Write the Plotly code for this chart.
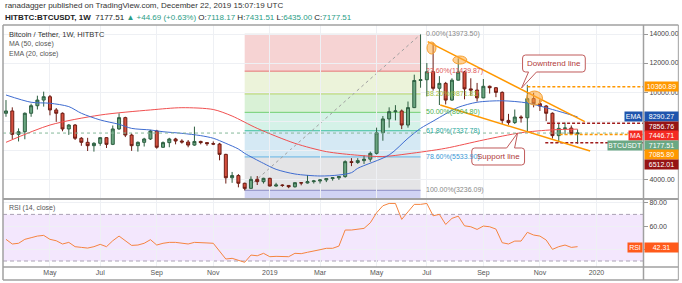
import plotly.graph_objects as go
import pandas as pd

# ---------------- data ----------------
WEEK0 = "2018-03-19"
N_WEEKS = 92
open_ = [8540, 8700, 7090, 7270, 8540, 9060, 9450, 9680, 8770, 8540,
         7460, 7730, 6820, 6540, 6310, 6470, 6860, 6400, 7460, 8240,
         7040, 6310, 6540, 6770, 7320, 6200, 6520, 6770, 6630, 6560,
         6350, 6600, 6520, 6450, 6420, 5710, 4100, 4250, 3720, 3370,
         3990, 3830, 4060, 3530, 3600, 3570, 3480, 3760, 3740, 3830,
         3880, 3950, 4040, 4100, 4180, 5210, 5150, 5280, 5380, 5780,
         7200, 8150, 8650, 8700, 7730, 8930, 10800, 10850, 11400, 10260,
         10600, 9450, 10820, 11380, 10220, 10140, 9600, 10400, 10300, 9980,
         8050, 7900, 8280, 8230, 9550, 9200, 9040, 8540, 7000, 7500,
         7520, 7118.17]
high = [9450, 8950, 7500, 8600, 9200, 9750, 10030, 9800, 8900, 8600,
        7800, 7800, 6900, 6850, 6550, 6900, 6900, 7700, 8540, 8300,
        7150, 6600, 6850, 7400, 7400, 6600, 6850, 6850, 6750, 6700,
        7620, 6650, 6550, 6600, 6500, 5750, 4500, 4350, 3760, 4200,
        4220, 4100, 4100, 3750, 3650, 3600, 3780, 3800, 4290, 3950,
        4000, 4050, 4150, 4200, 5300, 5450, 5450, 5650, 5900, 7550,
        8350, 8950, 9100, 8800, 9350, 11200, 13973.5, 12000, 13380, 11100,
        10700, 10950, 12320, 11450, 10950, 10630, 10900, 10450, 10350, 10050,
        8500, 8800, 8400, 10500, 9950, 9500, 9100, 8600, 7850, 7900,
        7700, 7431.51]
low = [8300, 6770, 6600, 6750, 8300, 8800, 9000, 8400, 7950, 7300,
       7050, 6700, 6300, 5940, 5900, 6300, 6150, 6350, 7400, 6900,
       5950, 5900, 6250, 6700, 6100, 6150, 6200, 6400, 6450, 6200,
       6300, 6400, 6300, 6350, 5300, 3700, 3750, 3440, 3236.09, 3350,
       3600, 3700, 3500, 3480, 3470, 3380, 3420, 3580, 3700, 3700,
       3700, 3800, 3900, 3950, 4100, 4900, 5050, 5050, 5200, 5700,
       6650, 7550, 8050, 7450, 7550, 8900, 10300, 9700, 10100, 9110,
       9150, 9400, 10800, 9500, 9750, 9350, 9580, 9900, 9650, 7800,
       7750, 7800, 7900, 7300, 8950, 8700, 8000, 6800, 6512.01, 7080,
       7050, 6435.00]
close = [8700, 7090, 7270, 8540, 9060, 9450, 9680, 8770, 8540, 7460,
         7730, 6820, 6540, 6310, 6470, 6860, 6400, 7460, 8240, 7040,
         6310, 6540, 6770, 7320, 6200, 6520, 6770, 6630, 6560, 6350,
         6600, 6520, 6450, 6420, 5710, 4100, 4250, 3720, 3370, 3990,
         3830, 4060, 3530, 3600, 3570, 3480, 3760, 3740, 3830, 3880,
         3950, 4040, 4100, 4180, 5210, 5150, 5280, 5380, 5780, 7200,
         8150, 8650, 8700, 7730, 8930, 10800, 10850, 11400, 10260, 10600,
         9450, 10820, 11380, 10220, 10140, 9600, 10400, 10300, 9980, 8050,
         7900, 8280, 8230, 9550, 9200, 9040, 8540, 7000, 7500, 7520,
         7132.82, 7177.51]
rsi = [48.6, 44.6, 45.2, 48.6, 50.0, 51.4, 52.0, 48.6, 47.4, 44.6,
       46.0, 42.3, 41.7, 41.1, 42.3, 44.3, 42.3, 47.4, 51.4, 47.1,
       43.4, 43.7, 45.2, 48.3, 43.7, 45.2, 46.0, 46.0, 45.2, 44.6,
       46.0, 45.5, 45.5, 45.2, 38.8, 31.7, 32.3, 30.3, 28.9, 35.1,
       34.5, 36.6, 33.7, 34.0, 34.0, 33.7, 36.6, 36.3, 37.5, 38.3,
       39.7, 40.9, 40.9, 42.8, 56.6, 56.6, 57.4, 58.0, 62.8, 71.4,
       77.4, 79.4, 79.4, 65.7, 72.2, 78.6, 78.6, 79.4, 68.8, 70.0,
       61.4, 66.6, 68.5, 60.2, 59.4, 57.1, 60.0, 59.4, 57.4, 45.7,
       44.6, 47.1, 47.1, 54.6, 52.3, 51.4, 48.0, 40.0, 42.3, 43.7,
       41.7, 42.31]
ma50_week = [0, 7, 15, 23, 28, 33, 36, 40, 46, 51, 56, 60, 64, 70, 76, 82, 87, 91]
ma50_val = [6540, 7730, 8420, 8770, 8925, 8800, 8350, 7500, 6470, 5900,
            5650, 5560, 5750, 6130, 6700, 7200, 7400, 7446.71]
ema20_week = [0, 4, 7, 10, 12, 15, 18, 20, 23, 25, 28, 31, 33, 35, 37, 38,
              41, 43, 46, 50, 53, 55, 56, 61, 64, 66, 68, 70, 72, 75, 79,
              83, 87, 91]
ema20_val = [9800, 9300, 9230, 9000, 8540, 8080, 7780, 7500, 7390, 7270,
             7160, 7000, 6820, 6470, 6080, 5780, 5090, 4680, 4360, 4220,
             4290, 4450, 4750, 5670, 6820, 7500, 8000, 8500, 8950, 9300,
             9400, 9250, 8800, 8290.27]
fib_labels = ["0.00%", "23.60%", "38.20%", "50.00%", "61.80%", "78.60%", "100.00%"]
fib_prices = [13973.50, 11439.87, 9871.81, 8604.80, 7337.78, 5533.90, 3236.09]
month_tick_dates = ["2018-05-07", "2018-07-02", "2018-09-03", "2018-11-05",
                    "2019-01-07", "2019-03-04", "2019-05-06", "2019-07-01",
                    "2019-09-02", "2019-11-04", "2020-01-06"]
month_tick_text = ["May", "Jul", "Sep", "Nov", "2019", "Mar", "May", "Jul",
                   "Sep", "Nov", "2020"]
price_ticks = [4000, 6000, 8000, 10000, 12000, 14000]
price_tick_text = ["4000.00", "", "", "10000.00", "12000.00", "14000.00"]
rsi_ticks = [40, 60, 80]
rsi_tick_text = ["", "60.00", "80.00"]
# drawings (date, price)
downtrend = [("2019-07-02", 13470), ("2019-12-24", 7960)]
supportln = [("2019-07-16", 9110), ("2019-12-30", 5940)]
h_levels = [(10360.89, "2019-10-21", "#ff9800"), (7856.76, "2019-11-12", "#a01c1c"),
            (7085.80, "2019-11-26", "#ff9800"), (6512.01, "2019-11-10", "#a01c1c")]
last_price = 7177.51

# ---------------- geometry helpers ----------------
W, H = 682, 283
LM, RM, TM, BM = 3, 36, 25, 16
PW, PH = W - LM - RM, H - TM - BM


def px(x):
    return (x - LM) / PW


def py(y):
    return (H - BM - y) / PH


dates = pd.date_range(WEEK0, periods=N_WEEKS, freq="W-MON")
X_LEFT = pd.Timestamp(WEEK0) - pd.Timedelta(days=3.33)
X_RIGHT = pd.Timestamp(WEEK0) + pd.Timedelta(days=709.9)
Y_MAIN = [2657, 14620]
Y_RSI = [24.86, 82.85]
MAIN_BOTTOM = py(198.7)

fig = go.Figure()
fig.add_trace(go.Candlestick(
    x=dates, open=open_, high=high, low=low, close=close,
    increasing=dict(fillcolor="#6aa580", line=dict(color="#2d5f40", width=1)),
    decreasing=dict(fillcolor="#d6503f", line=dict(color="#6e1d14", width=1)),
    whiskerwidth=0, xaxis="x", yaxis="y", hoverinfo="skip"))
fig.add_trace(go.Scatter(x=[dates[i] for i in ma50_week], y=ma50_val, mode="lines",
                         line=dict(color="#f05050", width=1, shape="spline", smoothing=0.8),
                         xaxis="x", yaxis="y"))
fig.add_trace(go.Scatter(x=[dates[i] for i in ema20_week], y=ema20_val, mode="lines",
                         line=dict(color="#3f6cd0", width=1, shape="spline", smoothing=0.8),
                         xaxis="x", yaxis="y"))
fig.add_trace(go.Scatter(x=dates, y=rsi, mode="lines",
                         line=dict(color="#f5843f", width=1),
                         xaxis="x2", yaxis="y2"))

shapes = []
# fib bands
band_colors = ["#f6d3d3", "#ecf3da", "#d9f1d6", "#d5f2e8", "#d5e9f4", "#e4e4e6"]
line_colors = ["#9a9a9a", "#e57373", "#b5d36b", "#70cf70", "#3cbfa0", "#64b3e6", "#8c8cc4"]
text_colors = ["#888888", "#e05555", "#9fbd3c", "#4caf50", "#26a69a", "#3d97d6", "#888888"]
fx0, fx1 = dates[38], dates[66]
for i in range(6):
    shapes.append(dict(type="rect", xref="x", yref="y", x0=fx0, x1=fx1,
                       y0=fib_prices[i + 1], y1=fib_prices[i], fillcolor=band_colors[i],
                       line=dict(width=0), layer="below"))
shapes.append(dict(type="rect", xref="x", yref="y", x0=fx0, x1=fx1,
                   y0=Y_MAIN[0], y1=fib_prices[6], fillcolor="#d0d3f3",
                   line=dict(width=0), layer="below"))
for i, p in enumerate(fib_prices):
    shapes.append(dict(type="line", xref="x", yref="y", x0=fx0, x1=fx1, y0=p, y1=p,
                       line=dict(color=line_colors[i], width=1), layer="below"))
shapes.append(dict(type="line", xref="x", yref="y", x0=fx0, x1=fx1,
                   y0=fib_prices[6], y1=fib_prices[0],
                   line=dict(color="#a0a0a0", width=1, dash="3px,3px"), layer="below"))
# RSI band
shapes.append(dict(type="rect", xref="paper", yref="y2", x0=0, x1=1, y0=30, y1=70,
                   fillcolor="#f3e7fd", line=dict(width=0), layer="below"))
for v in (30, 70):
    shapes.append(dict(type="line", xref="paper", yref="y2", x0=0, x1=1, y0=v, y1=v,
                       line=dict(color="#aaa2b4", width=1, dash="4px,3px"), layer="below"))
# last price line
shapes.append(dict(type="line", xref="paper", yref="y", x0=0, x1=1, y0=last_price,
                   y1=last_price, line=dict(color="#86b99a", width=1, dash="dot")))
# horizontal levels
for p, d0, c in h_levels:
    shapes.append(dict(type="line", xref="x", yref="y", x0=d0, x1=X_RIGHT, y0=p, y1=p,
                       line=dict(color=c, width=1.5, dash="3px,2px")))
# trend lines
for ln in (downtrend, supportln):
    shapes.append(dict(type="line", xref="x", yref="y", x0=ln[0][0], y0=ln[0][1],
                       x1=ln[1][0], y1=ln[1][1], line=dict(color="#ff9800", width=1.5)))
# ellipses (pixel boxes)
for (x0, y0, x1, y1) in [(429, 42, 438, 54), (455, 56, 469, 64), (529, 91, 545, 105)]:
    shapes.append(dict(type="circle", xref="paper", yref="paper", x0=px(x0), x1=px(x1),
                       y0=py(y1), y1=py(y0), fillcolor="rgba(255,170,60,0.55)",
                       line=dict(color="#f5a030", width=1)))


def pt(x, y):
    return f"{px(x):.5f},{py(y):.5f}"


def callout_path(x0, y0, x1, y1, tail, tip, on_top):
    r = 3
    a, b = tail
    parts = [f"M {pt(x0 + r, y0)}"]
    if on_top:
        parts += [f"L {pt(a, y0)}", f"L {pt(*tip)}", f"L {pt(b, y0)}"]
    parts += [f"L {pt(x1 - r, y0)}", f"Q {pt(x1, y0)} {pt(x1, y0 + r)}",
              f"L {pt(x1, y1 - r)}", f"Q {pt(x1, y1)} {pt(x1 - r, y1)}"]
    if not on_top:
        parts += [f"L {pt(b, y1)}", f"L {pt(*tip)}", f"L {pt(a, y1)}"]
    parts += [f"L {pt(x0 + r, y1)}", f"Q {pt(x0, y1)} {pt(x0, y1 - r)}",
              f"L {pt(x0, y0 + r)}", f"Q {pt(x0, y0)} {pt(x0 + r, y0)}", "Z"]
    return " ".join(parts)


shapes.append(dict(type="path", xref="paper", yref="paper",
                   path=callout_path(525, 55, 588, 72, (531, 539), (524, 88), False),
                   fillcolor="white", line=dict(color="#c05a5a", width=1)))
shapes.append(dict(type="path", xref="paper", yref="paper",
                   path=callout_path(474, 148, 527, 165, (509, 517), (520, 133), True),
                   fillcolor="white", line=dict(color="#c05a5a", width=1)))

# frame
FC = "#a0a0a0"
for (x0, y0, x1, y1, w) in [(3, 25, 681.5, 25, 1.5), (3, 25, 3, 280, 1.5),
                            (3, 280, 681.5, 280, 1.5), (681.5, 25, 681.5, 280, 1),
                            (646.5, 25, 646.5, 280, 1.5), (3, 199, 681.5, 199, 2),
                            (3, 267, 681.5, 267, 1.5)]:
    shapes.append(dict(type="line", xref="paper", yref="paper", x0=px(x0), x1=px(x1),
                       y0=py(y0), y1=py(y1), line=dict(color=FC, width=w)))

ann = []
FONT = "Liberation Sans"


def text(x, y, s, size=7, color="#444", xanchor="left", **kw):
    ann.append(dict(xref="paper", yref="paper", x=px(x), y=py(y), text=s, showarrow=False,
                    xanchor=xanchor, yanchor="middle",
                    font=dict(family=FONT, size=size, color=color), **kw))


text(3, 6, "ranadagger published on TradingView.com, December 22, 2019 15:07:19 UTC",
     size=8, color="#333")
G = "#2a9d86"
text(3, 17, "<b>HITBTC:BTCUSDT, 1W</b>  7177.51 "
     f"<span style='color:{G}'>▲ +44.69 (+0.63%)</span> O:<span style='color:{G}'>7118.17</span>"
     f" H:<span style='color:{G}'>7431.51</span> L:<span style='color:{G}'>6435.00</span>"
     f" C:<span style='color:{G}'>7177.51</span>", size=8, color="#222")
text(7, 35, "Bitcoin / Tether, 1W, HITBTC", size=7.5, color="#333")
text(7, 44, "MA (50, close)", size=7, color="#555")
text(7, 54, "EMA (20, close)", size=7, color="#555")
text(7, 208, "RSI (14, close)", size=7, color="#555")

for i, p in enumerate(fib_prices):
    ann.append(dict(xref="x", yref="y", x=fx1, y=p, xshift=3,
                    text=f"{fib_labels[i]}({p:.2f})", showarrow=False,
                    xanchor="left", yanchor="middle",
                    font=dict(family=FONT, size=7, color=text_colors[i])))

text(556.5, 63.5, "Downtrend line", size=8, color="#b03a3a", xanchor="center")
text(500.5, 156.5, "Support line", size=8, color="#b03a3a", xanchor="center")


def value_label(y, s, bg):
    ann.append(dict(xref="paper", yref="paper", x=px(647), y=py(y), text=s, showarrow=False,
                    xanchor="left", yanchor="middle", bgcolor=bg, width=32, height=8,
                    borderpad=0.5, align="center",
                    font=dict(family=FONT, size=7, color="white")))


def name_label(y, s, bg, w):
    ann.append(dict(xref="paper", yref="paper", x=px(646), y=py(y), text=s, showarrow=False,
                    xanchor="right", yanchor="middle", bgcolor=bg, width=w, height=8,
                    borderpad=0.5, align="center",
                    font=dict(family=FONT, size=7, color="white")))


value_label(86.5, "10360.89", "#ff9800")
name_label(116.8, "EMA", "#1f55ad", 16)
value_label(116.8, "8290.27", "#1f55ad")
value_label(126.2, "7856.76", "#961414")
name_label(135.7, "MA", "#f42a22", 12)
value_label(135.7, "7446.71", "#f42a22")
name_label(145.1, "BTCUSDT", "#6aa884", 33)
value_label(145.1, "7177.51", "#6aa884")
value_label(154.5, "7085.80", "#ff9800")
value_label(164.0, "6512.01", "#961414")
name_label(247.3, "RSI", "#ff5a1a", 13)
value_label(247.3, "42.31", "#ff5a1a")

GRID = "#eef0f4"
fig.update_layout(
    width=W, height=H, margin=dict(l=LM, r=RM, t=TM, b=BM),
    paper_bgcolor="white", plot_bgcolor="white", showlegend=False,
    font=dict(family=FONT, size=7, color="#555"),
    shapes=shapes, annotations=ann, boxgap=0.32,
    xaxis=dict(type="date", domain=[0, 1], anchor="y", range=[X_LEFT, X_RIGHT],
               tickvals=month_tick_dates, showticklabels=False, showgrid=True,
               gridcolor=GRID, zeroline=False, rangeslider=dict(visible=False),
               fixedrange=True),
    yaxis=dict(domain=[MAIN_BOTTOM, 1], anchor="x", range=Y_MAIN, side="right",
               tickvals=price_ticks, ticktext=price_tick_text,
               ticks="outside", ticklen=4, tickcolor="#999", gridcolor=GRID,
               zeroline=False, tickfont=dict(size=7, color="#444")),
    xaxis2=dict(type="date", domain=[0, 1], anchor="y2", matches="x", range=[X_LEFT, X_RIGHT],
                tickvals=month_tick_dates, ticktext=month_tick_text, showgrid=True,
                gridcolor=GRID, zeroline=False, tickfont=dict(size=7, color="#555"),
                ticks="", rangeslider=dict(visible=False)),
    yaxis2=dict(domain=[0, MAIN_BOTTOM - 0.003], anchor="x2", range=Y_RSI, side="right",
                tickvals=rsi_ticks, ticktext=rsi_tick_text,
                ticks="outside", ticklen=4, tickcolor="#999", gridcolor=GRID,
                zeroline=False, tickfont=dict(size=7, color="#444")),
)
fig.write_html("out.html")
